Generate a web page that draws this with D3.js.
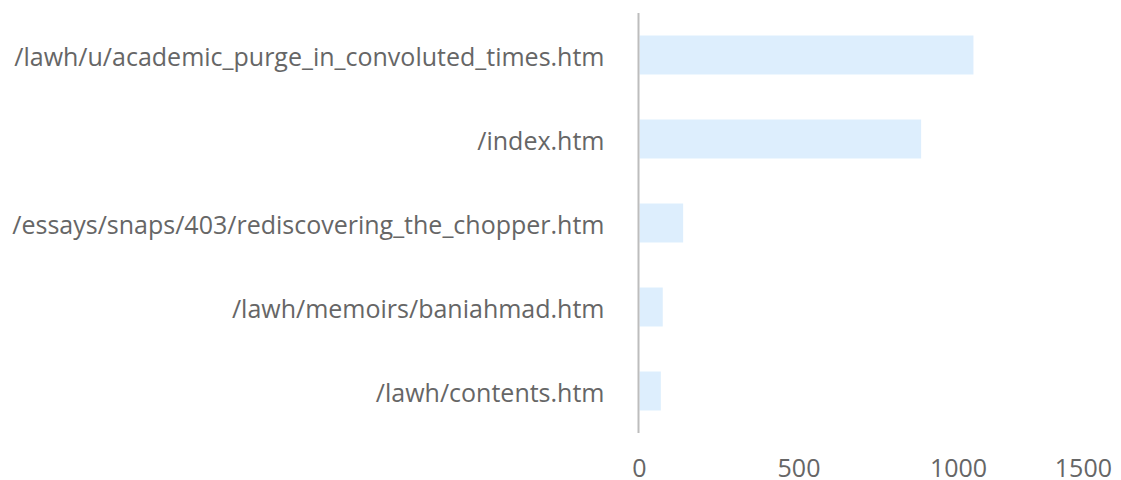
<!DOCTYPE html>
<html lang="en">
<head>
    <meta charset="UTF-8">
    <title>Top pages</title>
    <script src="https://d3js.org/d3.v7.min.js"></script>
    <style>
        body { margin: 0; background: #fff; }
        svg { display: block; }
        text {
            font-family: "Open Sans", sans-serif;
            font-size: 25px;
            fill: #666;
        }
    </style>
</head>
<body>
    <svg></svg>
    <script>
        const width = 1121;
        const height = 480;

        // data
        const pages = [
            "/lawh/u/academic_purge_in_convoluted_times.htm",
            "/index.htm",
            "/essays/snaps/403/rediscovering_the_chopper.htm",
            "/lawh/memoirs/baniahmad.htm",
            "/lawh/contents.htm"
        ];
        const hits = [1050, 886, 140, 76, 70];
        const ticks = [0, 500, 1000, 1500];

        const margin = { top: 13, right: 4, bottom: 47, left: 638.5 };

        const svg = d3.select("svg")
            .attr("width", width)
            .attr("height", height);

        const x = d3.scaleLinear()
            .domain([0, 1500])
            .range([margin.left, width - margin.right]);

        const y = d3.scaleBand()
            .domain(pages)
            .range([margin.top, height - margin.bottom])
            .paddingInner(0.536)
            .paddingOuter(0.268);

        const data = pages.map((p, i) => ({ page: p, value: hits[i] }));

        svg.append("g")
            .selectAll("rect")
            .data(data)
            .enter().append("rect")
            .attr("x", x(0) + 1)
            .attr("y", d => y(d.page))
            .attr("width", d => x(d.value) - x(0) - 1)
            .attr("height", y.bandwidth())
            .attr("fill", "#ddeefd");

        // vertical axis line
        svg.append("line")
            .attr("x1", x(0)).attr("x2", x(0))
            .attr("y1", margin.top).attr("y2", height - margin.bottom)
            .attr("stroke", "#bdbdbd")
            .attr("stroke-width", 2);

        // category labels
        svg.append("g")
            .selectAll("text")
            .data(data)
            .enter().append("text")
            .attr("x", x(0) - 34)
            .attr("y", d => y(d.page) + y.bandwidth() / 2)
            .attr("dy", "0.42em")
            .attr("text-anchor", "end")
            .text(d => d.page);

        // value tick labels (last one kept inside the page)
        svg.append("g")
            .selectAll("text")
            .data(ticks)
            .enter().append("text")
            .attr("x", (d, i) => i === ticks.length - 1 ? width - 9 : x(d) + 1)
            .attr("y", 477)
            .attr("text-anchor", (d, i) => i === ticks.length - 1 ? "end" : "middle")
            .text(d => d);
    </script>
</body>
</html>
